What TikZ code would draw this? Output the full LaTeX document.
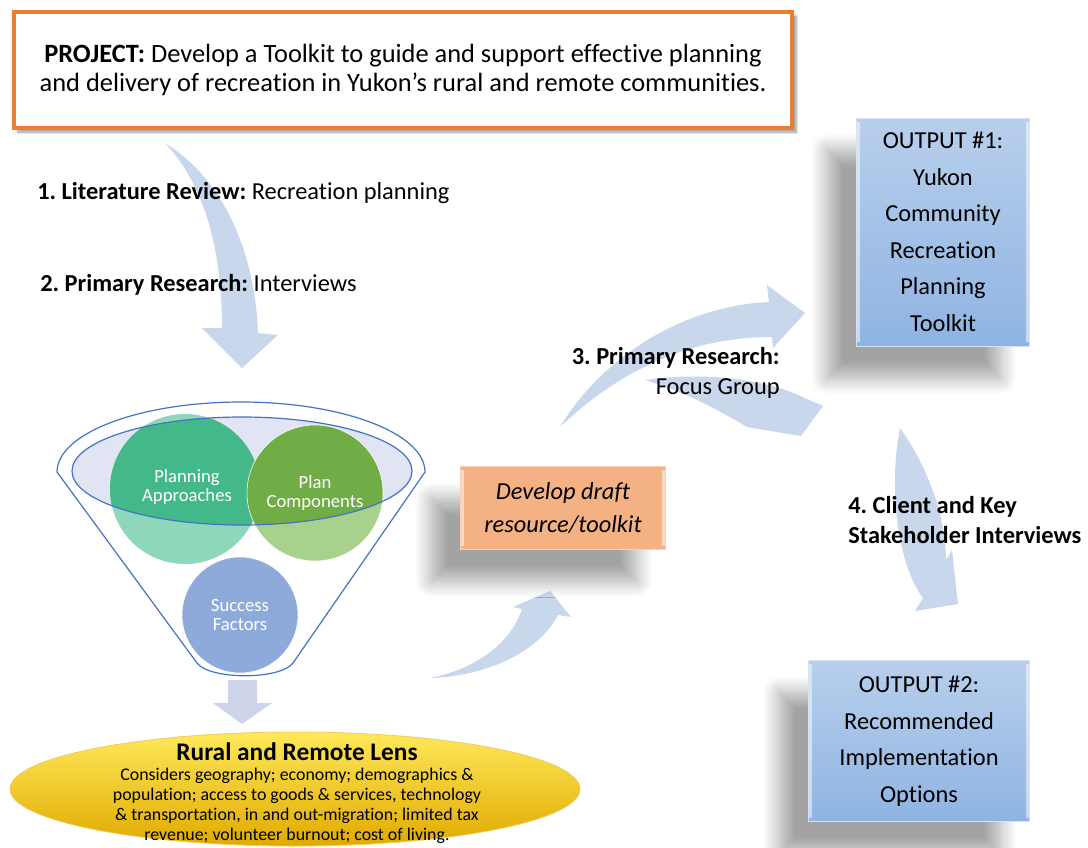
\documentclass[tikz,border=0pt]{standalone}
\usepackage{fontspec}
\setmainfont{Carlito}[Ligatures=NoCommon]
\usetikzlibrary{shadows.blur}
\definecolor{arrowblue}{RGB}{201,215,236}
\definecolor{downarrow}{RGB}{205,212,234}
\definecolor{boxorange}{RGB}{237,125,49}
\definecolor{draftfill}{RGB}{244,177,131}
\definecolor{outtop}{RGB}{184,207,236}
\definecolor{outbot}{RGB}{143,180,226}
\definecolor{funnelblue}{RGB}{68,114,196}
\definecolor{rimfill}{RGB}{224,228,243}
\definecolor{padark}{RGB}{67,185,138}
\definecolor{palight}{RGB}{143,215,185}
\definecolor{pcdark}{RGB}{112,173,71}
\definecolor{pclight}{RGB}{169,209,142}
\definecolor{sfblue}{RGB}{142,170,219}
\definecolor{lensdark}{RGB}{224,170,0}
\definecolor{lensmid}{RGB}{255,212,0}
\definecolor{lenstop}{RGB}{255,232,90}
\frenchspacing

\begin{document}
\begin{tikzpicture}[x=0.75pt,y=-0.75pt,
    stagetext/.style={font=\fontsize{18.3}{22}\selectfont, inner sep=0pt},
    bubble/.style={text=white, align=center, inner sep=0pt, font=\fontsize{14}{14.5}\selectfont},
    softshadow/.style={blur shadow={shadow xshift=-22pt, shadow yshift=-24pt,
      shadow blur radius=12pt, shadow blur steps=14, shadow opacity=36}},
    outbox/.style={draw=outtop!60!white, top color=outtop, bottom color=outbot, align=center,
      font=\fontsize{18.3}{27.4}\selectfont, softshadow}]
  \useasboundingbox (0,0) rectangle (1088,847);
  % broad curved arrows
  \fill[arrowblue] (165,143) .. controls (200,180) and (222,240) .. (222,328) -- (202,328)
    -- (242,368) -- (278,335) -- (258,333) .. controls (255,250) and (222,178) .. (165,143) -- cycle;
  \fill[arrowblue] (430,678) .. controls (480,668) and (512,640) .. (522,609) -- (513,607)
    -- (550,591) -- (571,617) -- (558,615) .. controls (540,650) and (490,676) .. (430,678) -- cycle;
  \fill[arrowblue] (560,427) .. controls (600,360) and (680,306) .. (769,302) -- (767,285)
    -- (805,313) -- (773,348) -- (772,337) .. controls (690,337) and (620,370) .. (560,427) -- cycle;
  \fill[arrowblue] (645,380) .. controls (700,372) and (760,378) .. (798,395) -- (823,406)
    -- (801,436) -- (747,427) .. controls (715,408) and (685,392) .. (645,380) -- cycle;
  \fill[arrowblue] (900,428) .. controls (930,470) and (946,520) .. (946,560) -- (952,550)
    -- (958,604) -- (915,611) -- (923,598) .. controls (898,565) and (888,490) .. (900,428) -- cycle;

  % project box
  \node[draw=boxorange, line width=3pt, fill=white, minimum width=584pt, minimum height=87pt,
    align=center, font=\fontsize{19.8}{22}\selectfont,
    blur shadow={shadow xshift=3pt, shadow yshift=-3pt, shadow blur radius=2pt, shadow opacity=40}]
    (project) at (403,70) {\textbf{PROJECT:} Develop a Toolkit to guide and support effective planning\\
    and delivery of recreation in Yukon’s rural and remote communities.};
  \node[stagetext, anchor=base west] (litreview) at (37,199) {\textbf{1. Literature Review:} Recreation planning};
  \node[stagetext, anchor=base west] (interviews) at (40,291) {\textbf{2. Primary Research:} Interviews};

  % funnel
  \filldraw[fill=white, draw=funnelblue, line width=0.9pt] (57,472)
    arc [start angle=180, end angle=360, x radius=184, y radius=70] -- (293,663)
    .. controls (280,680) and (210,680) .. (197,663) -- cycle;
  \fill[rimfill] (242,471) ellipse [x radius=170, y radius=54];
  \fill[palight] (185,489) circle [radius=75];
  \filldraw[fill=pclight, draw=white] (315,493) circle [radius=68];
  \begin{scope}
    \clip (242,471) ellipse [x radius=170, y radius=54];
    \fill[padark] (185,489) circle [radius=75];
    \filldraw[fill=pcdark, draw=white] (315,493) circle [radius=68];
  \end{scope}
  \draw[funnelblue, line width=0.9pt] (242,471) ellipse [x radius=170, y radius=54];
  \filldraw[fill=sfblue, draw=white] (240,615) circle [radius=58];
  \node[bubble] (approaches) at (187,487) {Planning\\Approaches};
  \node[bubble] (components) at (315,493) {Plan\\Components};
  \node[bubble] (success) at (240,615) {Success\\Factors};
  \fill[downarrow] (228,680) -- (257,680) -- (257,703) -- (272,703) -- (242,724)
    -- (213,703) -- (228,703) -- cycle;

  % rural and remote lens
  \shade[top color=lenstop, middle color=lensmid, bottom color=lensdark]
    (295,789) ellipse [x radius=285, y radius=57];
  \draw[lensdark!60!white, line width=0.6pt] (295,789) ellipse [x radius=285, y radius=57];
  \node[inner sep=0pt, font=\fontsize{19}{22}\selectfont\bfseries] (lenstitle) at (297,752) {Rural and Remote Lens};
  \node[inner sep=0pt, align=center, font=\fontsize{13.4}{14.9}\selectfont] (lenstext) at (297,806)
    {Considers geography; economy; demographics \&\\population; access to goods \& services, technology\\
    \& transportation, in and out-migration; limited tax\\revenue; volunteer burnout; cost of living.};

  % draft and outputs
  \node[fill=draftfill, draw=draftfill!60!white, minimum width=154pt, minimum height=62pt, align=center,
    font=\fontsize{18.3}{24.5}\selectfont\itshape, softshadow] (draft) at (563,508) {Develop draft\\resource/toolkit};
  \node[outbox, minimum width=130pt, minimum height=171pt] (output1) at (943,232)
    {OUTPUT \#1:\\Yukon\\Community\\Recreation\\Planning\\Toolkit};
  \node[outbox, minimum width=166pt, minimum height=121pt] (output2) at (919,741)
    {OUTPUT \#2:\\Recommended\\Implementation\\Options};
  \foreach \b in {draft,output1,output2} {
    \draw[white, opacity=.5, line width=2.5pt] ([xshift=2pt,yshift=-3pt]\b.north west) -- ([xshift=2pt,yshift=3pt]\b.south west);
    \draw[white, opacity=.5, line width=2.5pt] ([xshift=-2pt,yshift=-3pt]\b.north east) -- ([xshift=-2pt,yshift=3pt]\b.south east);
  }
  \node[stagetext, align=right, anchor=east] (focusgroup) at (780,373) {\textbf{3. Primary Research:}\\Focus Group};
  \node[stagetext, align=left, anchor=west] (stakeholders) at (848,520) {\textbf{4. Client and Key}\\\textbf{Stakeholder Interviews}};
\end{tikzpicture}
\end{document}
